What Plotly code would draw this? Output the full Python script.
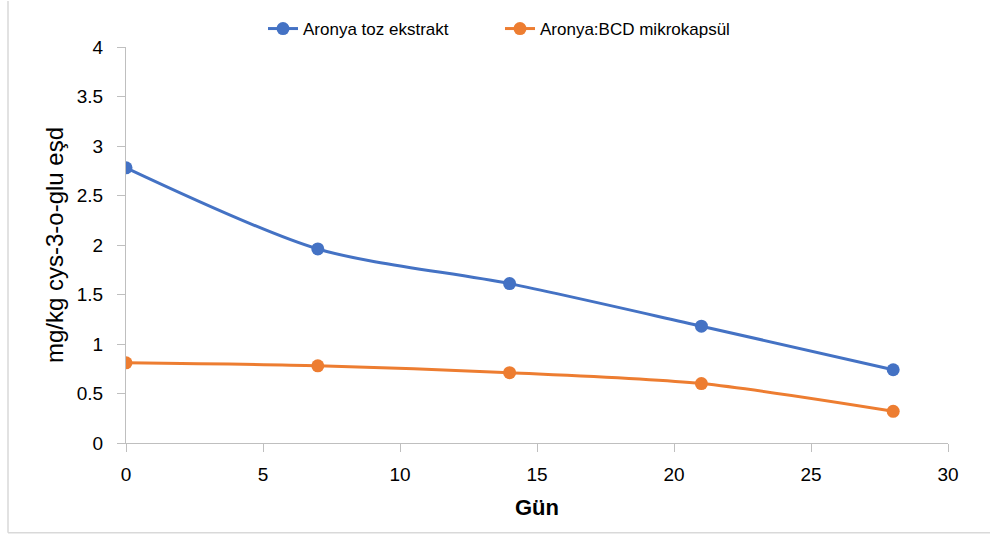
import plotly.graph_objects as go

days = [0, 7, 14, 21, 28]
toz_ekstrakt = [2.78, 1.96, 1.61, 1.18, 0.74]
bcd_mikrokapsul = [0.81, 0.78, 0.71, 0.60, 0.32]
series_names = ["Aronya toz ekstrakt", "Aronya:BCD mikrokapsül"]
colors = ["#4472C4", "#ED7D31"]
x_ticks = [0, 5, 10, 15, 20, 25, 30]
y_ticks = [0, 0.5, 1, 1.5, 2, 2.5, 3, 3.5, 4]
y_tick_text = ["0", "0.5", "1", "1.5", "2", "2.5", "3", "3.5", "4"]

FONT = "Liberation Sans, Arial, sans-serif"

fig = go.Figure()
for name, vals, c in zip(series_names, [toz_ekstrakt, bcd_mikrokapsul], colors):
    fig.add_trace(go.Scatter(
        x=days, y=vals, name=name, mode="lines+markers",
        line=dict(color=c, width=3, shape="spline", smoothing=0.8),
        marker=dict(color=c, size=13),
    ))

W, H = 990, 536
L, R, T, B = 126, 42, 46, 93
pw, ph = W - L - R, H - T - B
by = (ph + T - 533) / ph

fig.update_layout(
    width=W, height=H,
    margin=dict(l=L, r=R, t=T, b=B),
    paper_bgcolor="white", plot_bgcolor="white",
    font=dict(family=FONT, size=18, color="#000000"),
    showlegend=True,
    legend=dict(
        orientation="h", x=(263 - L) / pw, y=1 + (46 - 11) / ph,
        xanchor="left", yanchor="top",
        entrywidth=192, entrywidthmode="pixels",
        font=dict(family=FONT, size=17, color="#000000"),
        bgcolor="rgba(0,0,0,0)",
    ),
    xaxis=dict(
        range=[0, 30], tickvals=x_ticks, showgrid=False, zeroline=False,
        showline=True, linecolor="#BFBFBF", linewidth=1,
        ticks="outside", ticklen=8, tickcolor="#BFBFBF",
        ticklabelstandoff=6,
        tickfont=dict(family=FONT, size=19, color="#000000"),
        title=dict(text="<b>Gün</b>", font=dict(family=FONT, size=22, color="#000000"), standoff=15),
        fixedrange=True,
    ),
    yaxis=dict(
        range=[0, 4], tickvals=y_ticks, ticktext=y_tick_text, showgrid=False, zeroline=False,
        showline=True, linecolor="#BFBFBF", linewidth=1,
        ticks="outside", ticklen=8, tickcolor="#BFBFBF",
        ticklabelstandoff=10,
        tickfont=dict(family=FONT, size=19, color="#000000"),
        title=dict(text="mg/kg cys-3-o-glu eşd", font=dict(family=FONT, size=24, color="#000000"), standoff=6),
        fixedrange=True,
    ),
    shapes=[
        dict(type="line", xref="paper", yref="paper",
             x0=(8 - L) / pw, x1=(8 - L) / pw, y0=by, y1=(ph + T) / ph,
             line=dict(color="#D9D9D9", width=1.5)),
        dict(type="line", xref="paper", yref="paper",
             x0=(8 - L) / pw, x1=(W - L) / pw, y0=by, y1=by,
             line=dict(color="#D9D9D9", width=1.5)),
    ],
)

fig.write_html("out.html")
